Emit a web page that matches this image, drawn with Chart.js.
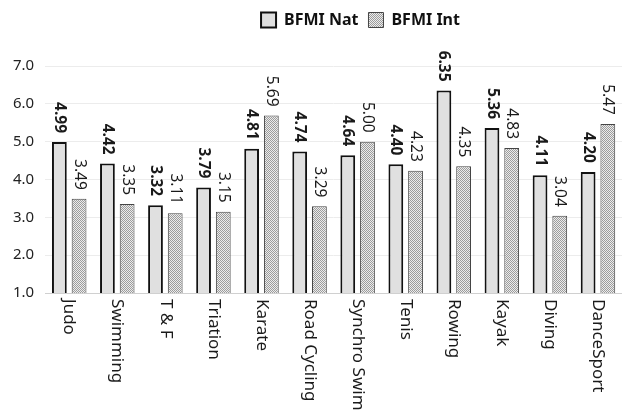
<!DOCTYPE html>
<html>
<head>
<meta charset="utf-8">
<script src="https://cdn.jsdelivr.net/npm/chart.js@4.4.1/dist/chart.umd.min.js"></script>
<style>
  html, body { margin: 0; padding: 0; background: #fff; }
  #wrap { width: 622px; height: 416px; }
</style>
</head>
<body>
<div id="wrap"><canvas id="chart" width="622" height="416"></canvas></div>
<script>
// data
const categories = ['Judo', 'Swimming', 'T & F', 'Triation', 'Karate', 'Road Cycling',
  'Synchro Swim', 'Tenis', 'Rowing', 'Kayak', 'Diving', 'DanceSport'];
const bfmiNat = [4.99, 4.42, 3.32, 3.79, 4.81, 4.74, 4.64, 4.40, 6.35, 5.36, 4.11, 4.20];
const bfmiInt = [3.49, 3.35, 3.11, 3.15, 5.69, 3.29, 5.00, 4.23, 4.35, 4.83, 3.04, 5.47];
const seriesNames = ['BFMI Nat', 'BFMI Int'];

const FONT = '"Noto Sans", "Open Sans", sans-serif';

// checkered fill for second series
function makePattern() {
  const c = document.createElement('canvas');
  c.width = 2; c.height = 2;
  const g = c.getContext('2d');
  g.fillStyle = '#ececec';
  g.fillRect(0, 0, 2, 2);
  g.fillStyle = '#9c9c9c';
  g.fillRect(0, 0, 1, 1);
  g.fillRect(1, 1, 1, 1);
  return g.createPattern(c, 'repeat');
}
const hatch = makePattern();

// legend sits a bit right of centre and leaves a gap above the plot
const legendTweak = {
  id: 'legendTweak',
  beforeInit(chart) {
    const fit = chart.legend.fit;
    chart.legend.fit = function () {
      fit.call(this);
      this.height += 28;
    };
  },
  afterLayout(chart) {
    const lg = chart.legend;
    lg.left += 45;
    lg.right += 45;
    if (lg.adjustHitBoxes) lg.adjustHitBoxes();
  }
};

// rotated value labels + category labels (text reads top to bottom)
const verticalText = {
  id: 'verticalText',
  afterDatasetsDraw(chart) {
    const ctx = chart.ctx;
    ctx.save();
    ctx.fillStyle = '#1a1a1a';
    chart.data.datasets.forEach((ds, di) => {
      const meta = chart.getDatasetMeta(di);
      ctx.font = (di === 0 ? 'bold ' : '') + '15.5px ' + FONT;
      meta.data.forEach((bar, i) => {
        ctx.save();
        ctx.translate(bar.x, bar.y - 9);
        ctx.rotate(Math.PI / 2);
        ctx.textAlign = 'right';
        ctx.textBaseline = 'middle';
        ctx.fillText(ds.data[i].toFixed(2), 0, 0);
        ctx.restore();
      });
    });
    const xs = chart.scales.x;
    ctx.font = '17px ' + FONT;
    categories.forEach((c, i) => {
      const x = xs.getPixelForValue(i);
      ctx.save();
      ctx.translate(x, xs.top + 6);
      ctx.rotate(Math.PI / 2);
      ctx.textAlign = 'left';
      ctx.textBaseline = 'middle';
      ctx.fillText(c, 0, 0);
      ctx.restore();
    });
    ctx.restore();
  }
};

new Chart(document.getElementById('chart'), {
  type: 'bar',
  data: {
    labels: categories,
    datasets: [{
      label: seriesNames[0],
      data: bfmiNat,
      backgroundColor: '#e0e0e0',
      borderColor: '#111',
      borderWidth: 2,
      borderSkipped: false
    }, {
      label: seriesNames[1],
      data: bfmiInt,
      backgroundColor: hatch,
      borderColor: '#444',
      borderWidth: 1,
      borderSkipped: false
    }]
  },
  options: {
    responsive: false,
    animation: false,
    devicePixelRatio: 1,
    categoryPercentage: 0.82,
    barPercentage: 0.75,
    layout: { padding: { left: 2, right: -7, top: 2, bottom: 115 } },
    plugins: {
      legend: {
        position: 'top',
        labels: {
          color: '#111',
          font: { family: FONT, size: 16, weight: 'bold' },
          boxWidth: 15,
          boxHeight: 15,
          padding: 10
        }
      },
      tooltip: { enabled: false }
    },
    scales: {
      x: {
        grid: { display: false },
        border: { color: '#d0d0d0' },
        ticks: { display: false }
      },
      y: {
        min: 1,
        max: 7,
        ticks: {
          stepSize: 1,
          color: '#222',
          padding: 11,
          font: { family: FONT, size: 15 },
          callback: v => v.toFixed(1)
        },
        grid: { color: '#ececec', drawTicks: false },
        border: { display: false }
      }
    }
  },
  plugins: [legendTweak, verticalText]
});
</script>
</body>
</html>
